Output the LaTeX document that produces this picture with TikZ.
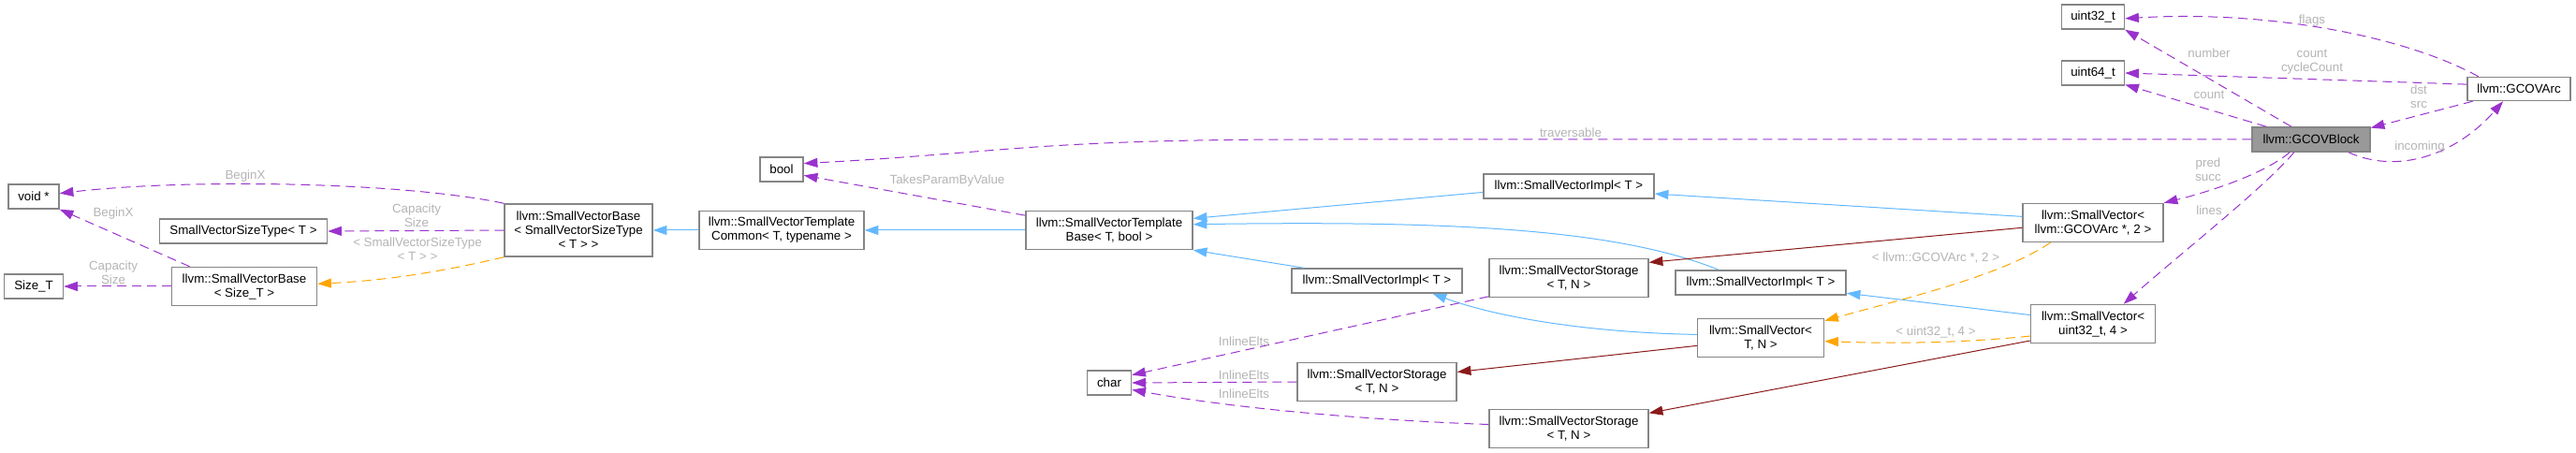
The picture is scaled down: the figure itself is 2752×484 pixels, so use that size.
\documentclass[tikz,border=0pt]{standalone}
\usepackage{fontspec}
\setmainfont{Liberation Sans}
\usetikzlibrary{arrows.meta}
\definecolor{cpurple}{HTML}{9A32CD}
\definecolor{corange}{HTML}{FFA500}
\definecolor{cblue}{HTML}{63B8FF}
\definecolor{cred}{HTML}{8B1A1A}
\definecolor{cbord}{HTML}{858585}
\definecolor{cfill}{HTML}{999999}
\definecolor{clabel}{HTML}{B4B4B4}
\tikzset{
  every picture/.style={font=\fontsize{10}{11.25}\selectfont, line width=0.75pt},
  box/.style={draw=cbord, fill=#1, line width=1.1pt, align=center, inner sep=1pt, minimum height=26*0.75pt},
  box/.default=white,
  wide/.style={minimum width=#1*0.75pt},
  two/.style={minimum height=41*0.75pt},
  three/.style={minimum height=56*0.75pt},
  tip/.style={-{Triangle[length=11pt, width=7.5pt]}},
  dep/.style={tip, draw=cpurple, dash pattern=on 7.5pt off 4.5pt},
  tmpl/.style={tip, draw=corange, dash pattern=on 7.5pt off 4.5pt},
  inh/.style={tip, draw=cblue},
  comp/.style={tip, draw=cred},
  lbl/.style={text=clabel, align=center, inner sep=0pt},
}

\begin{document}
\begin{tikzpicture}[x=0.75pt, y=-0.75pt]
  \useasboundingbox (0,0) rectangle (2752,484);
  \node[box, wide=54] (voidp) at (36,210) {void *};
  \node[box, wide=63] (sizeT) at (36,306) {Size\_T};
  \node[box, wide=179] (svst) at (260,247) {SmallVectorSizeType< T >};
  \node[box, two, wide=155] (svbsz) at (261,306) {llvm::SmallVectorBase\\< Size\_T >};
  \node[box, three, wide=158] (svbst) at (618,246) {llvm::SmallVectorBase\\< SmallVectorSizeType\\< T > >};
  \node[box, wide=46] (boolt) at (835,181) {bool};
  \node[box, two, wide=176] (svtc) at (835,246) {llvm::SmallVectorTemplate\\Common< T, typename >};
  \node[box, two, wide=178] (svtb) at (1185,246) {llvm::SmallVectorTemplate\\Base< T, bool >};
  \node[box, wide=47] (charT) at (1185,409) {char};
  \node[box, wide=182] (implA) at (1676,199) {llvm::SmallVectorImpl< T >};
  \node[box, wide=182] (implB) at (1471,300) {llvm::SmallVectorImpl< T >};
  \node[box, wide=182] (implC) at (1881,302) {llvm::SmallVectorImpl< T >};
  \node[box, two, wide=170] (storA) at (1676,297) {llvm::SmallVectorStorage\\< T, N >};
  \node[box, two, wide=170] (storB) at (1471,408) {llvm::SmallVectorStorage\\< T, N >};
  \node[box, two, wide=170] (storC) at (1676,458) {llvm::SmallVectorStorage\\< T, N >};
  \node[box, two, wide=135] (svTN) at (1881,361) {llvm::SmallVector<\\T, N >};
  \node[box, two, wide=150] (svArc) at (2236,238) {llvm::SmallVector<\\llvm::GCOVArc *, 2 >};
  \node[box, two, wide=133] (svU32) at (2236,346) {llvm::SmallVector<\\uint32\_t, 4 >};
  \node[box, wide=67] (u32) at (2236,18) {uint32\_t};
  \node[box, wide=67] (u64) at (2236,78) {uint64\_t};
  \node[box=cfill, wide=126] (blk) at (2469,149) {llvm::GCOVBlock};
  \node[box, wide=110, minimum height=25*0.75pt] (arc) at (2691,95) {llvm::GCOVArc};

  \draw[dep] (blk.west) -- ++(-1000,0) .. controls +(-300,0) and +(220,-12) .. (boolt.15);
  \draw[dep] (svtb.170) -- (boolt.-15);
  \draw[inh] (svtb.west) -- (svtc.east);
  \draw[inh] (svtc.west) -- (svbst.east);
  \draw[dep] (svbst.north west) .. controls +(-109,-23) and +(137,-16) .. (voidp.7);
  \draw[dep] (svbst.west) -- (svst.east);
  \draw[dep] (svbsz.160) -- (voidp.south east);
  \draw[dep] (svbsz.west) -- (sizeT.east);
  \draw[tmpl] (svbst.south west) .. controls +(-60,14) and +(80,-4) .. (svbsz.2);
  \draw[inh] (implA.184) -- (svtb.8);
  \draw[inh] (implB.170) -- (svtb.south east);
  \draw[inh] (implC.163) .. controls +(-110,-44) and +(276,-4) .. (svtb.4);
  \draw[inh] (svArc.175) -- (implA.-5);
  \draw[comp] (svArc.184) -- (storA.11);
  \draw[inh] (svTN.177) .. controls +(-113,-2) and +(71,26) .. (implB.-13);
  \draw[comp] (svTN.187) -- (storB.7);
  \draw[inh] (svU32.172) -- (implC.-7);
  \draw[comp] (svU32.195) -- (storC.11);
  \draw[tmpl] (svArc.205) .. controls +(-53,36) and +(82,-23) .. (svTN.15);
  \draw[tmpl] (svU32.191) .. controls +(-70,7) and +(82,3) .. (svTN.-3);
  \draw[dep] (storA.193) -- (charT.19);
  \draw[dep] (storB.west) -- (charT.east);
  \draw[dep] (storC.177) .. controls +(-111,-4) and +(121,22) .. (charT.-17);
  \draw[dep] (blk.147) -- (u32.south east);
  \draw[dep] (arc.163) .. controls +(-80,-44) and +(150,-9) .. (u32.-3);
  \draw[dep] (blk.164) -- (u64.-20);
  \draw[dep] (arc.175) -- (u64.east);
  \draw[dep] (arc.195) -- (blk.11);
  \draw[dep] (blk.-19) .. controls +(53,24) and +(-50,57) .. (arc.218);
  \draw[dep] (blk.211) .. controls +(-27,23) and +(49,-12) .. (svArc.north east);
  \draw[dep] (blk.217) .. controls +(-32,38) and +(62,-55) .. (svU32.33);

  \node[lbl] (lTrav) at (1678,142) {traversable};
  \node[lbl] (lTakes) at (1012,193) {TakesParamByValue};
  \node[lbl] (lBeginA) at (262,188) {BeginX};
  \node[lbl] (lCapA) at (445,230) {Capacity\\Size};
  \node[lbl] (lBeginB) at (121,228) {BeginX};
  \node[lbl] (lCapB) at (121,291) {Capacity\\Size};
  \node[lbl] (lSizeType) at (446,266) {< SmallVectorSizeType\\< T > >};
  \node[lbl] (lArcTmpl) at (2068,276) {< llvm::GCOVArc *, 2 >};
  \node[lbl] (lU32Tmpl) at (2068,355) {< uint32\_t, 4 >};
  \node[lbl] (lInlA) at (1329,365) {InlineElts};
  \node[lbl] (lInlB) at (1329,401) {InlineElts};
  \node[lbl] (lInlC) at (1329,421) {InlineElts};
  \node[lbl] (lNumber) at (2360,57) {number};
  \node[lbl] (lFlags) at (2470,22) {flags};
  \node[lbl] (lCount) at (2360,101) {count};
  \node[lbl] (lCycle) at (2470,66) {count\\cycleCount};
  \node[lbl] (lDst) at (2584,103) {dst\\src};
  \node[lbl] (lIncoming) at (2585,157) {incoming};
  \node[lbl] (lPred) at (2359,181) {pred\\succ};
  \node[lbl] (lLines) at (2360,225) {lines};
\end{tikzpicture}
\end{document}
